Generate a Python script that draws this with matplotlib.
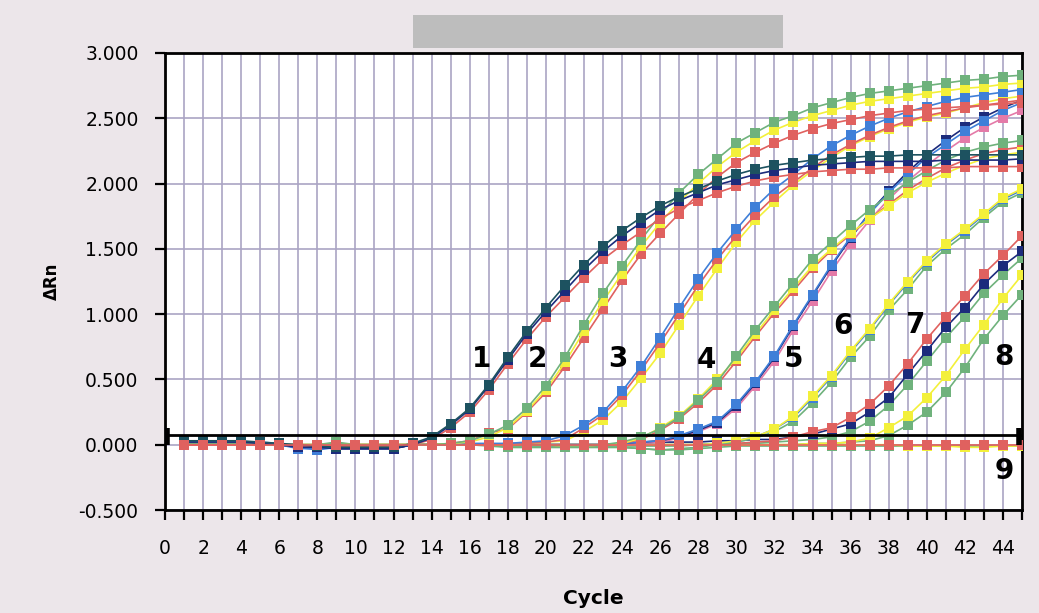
import matplotlib
matplotlib.use("Agg")
import matplotlib.pyplot as plt
from matplotlib.patches import Rectangle

cycles = list(range(1, 46))

# ---- dilution 1 ----
g1_navy = [0.02,0.02,0.02,0.02,0.01,0.00,-0.02,-0.02,-0.03,-0.03,-0.03,-0.03,0.00,
           0.05,0.15,0.27,0.45,0.65,0.85,1.02,1.18,1.34,1.48,1.60,1.70,1.80,1.87,1.93,1.99,2.03,2.07,
           2.10,2.12,2.14,2.15,2.16,2.17,2.17,2.17,2.17,2.18,2.18,2.18,2.18,2.19]
g1_teal = [0.03,0.03,0.03,0.03,0.02,0.01,0.00,-0.01,-0.02,-0.02,-0.02,-0.02,0.01,
           0.06,0.16,0.28,0.46,0.67,0.87,1.05,1.22,1.38,1.52,1.64,1.74,1.83,1.90,1.96,2.02,2.07,2.11,
           2.14,2.16,2.18,2.19,2.20,2.21,2.21,2.22,2.22,2.22,2.22,2.22,2.22,2.22]
g1_red = [0.00,0.00,0.00,0.00,0.00,0.00,-0.01,-0.01,-0.01,-0.01,-0.01,-0.01,0.00,
          0.04,0.13,0.25,0.42,0.62,0.81,0.98,1.13,1.28,1.42,1.53,1.63,1.73,1.81,1.87,1.93,1.98,2.02,
          2.05,2.07,2.09,2.10,2.11,2.11,2.12,2.12,2.12,2.12,2.13,2.13,2.13,2.13]
# ---- dilution 2 ----
g2_green = [0.01,0.01,0.01,0.01,0.00,0.00,-0.01,-0.01,0.01,-0.01,-0.01,-0.01,0.00,0.00,0.01,0.03,
            0.08,0.15,0.28,0.45,0.67,0.92,1.16,1.37,1.57,1.76,1.93,2.07,2.19,2.31,2.39,2.47,2.52,
            2.58,2.62,2.66,2.69,2.71,2.73,2.75,2.77,2.79,2.80,2.82,2.83]
g2_yellow = [0.01,0.01,0.01,0.01,0.00,0.00,-0.01,-0.01,0.00,-0.01,-0.01,-0.01,0.00,0.00,0.01,0.02,
             0.06,0.13,0.26,0.42,0.63,0.87,1.10,1.31,1.52,1.70,1.86,2.00,2.13,2.24,2.33,2.41,2.47,
             2.52,2.56,2.60,2.63,2.65,2.67,2.69,2.71,2.73,2.74,2.76,2.77]
g2_red = [0.00,0.00,0.00,0.00,0.00,0.00,-0.01,-0.01,0.00,-0.01,-0.01,-0.01,0.00,0.00,0.01,0.03,
          0.09,0.12,0.25,0.40,0.60,0.82,1.04,1.26,1.46,1.62,1.77,1.92,2.05,2.16,2.24,2.31,2.37,
          2.42,2.46,2.49,2.52,2.54,2.56,2.57,2.58,2.59,2.60,2.61,2.62]
# ---- dilution 3 ----
g3_blue = [0.02,0.02,0.02,0.02,0.01,0.00,-0.03,-0.03,-0.02,-0.02,-0.02,-0.02,0.00,0.00,0.00,
           0.01,0.01,0.01,0.02,0.03,
           0.07,0.15,0.25,0.41,0.60,0.82,1.05,1.27,1.47,1.65,1.82,1.96,2.07,2.19,2.29,2.37,2.44,
           2.50,2.55,2.59,2.63,2.66,2.68,2.70,2.72]
g3_red = [0.00,0.00,0.00,0.00,0.00,0.00,-0.01,-0.01,-0.01,-0.01,-0.01,-0.01,0.00,0.00,0.00,
          0.00,0.00,0.01,0.01,0.02,0.04,
          0.13,0.23,0.38,0.57,0.78,1.00,1.22,1.42,1.60,1.76,1.90,2.01,2.12,2.22,2.30,2.37,2.43,
          2.48,2.52,2.55,2.58,2.60,2.62,2.64]
g3_yellow = [0.00,0.00,0.00,0.00,0.00,0.00,-0.01,-0.01,-0.01,-0.01,-0.01,-0.01,0.00,0.00,0.00,
             0.00,0.00,0.00,0.01,0.02,0.03,
             0.10,0.19,0.33,0.51,0.70,0.92,1.14,1.35,1.55,1.72,1.86,1.99,2.10,2.20,2.29,2.36,2.42,
             2.47,2.51,2.54,2.58,2.62,2.65,2.67]
# ---- dilution 4 ----
g4_green = [0.00,0.00,0.00,0.00,0.00,0.00,-0.01,-0.01,0.00,0.00,0.00,0.00,0.00,0.00,0.00,0.00,
            0.00,0.00,0.00,0.00,-0.01,-0.01,0.00,0.02,
            0.06,0.12,0.21,0.34,0.48,0.68,0.88,1.06,1.24,1.42,1.55,1.68,1.80,1.91,2.01,2.10,2.18,
            2.24,2.28,2.31,2.33]
g4_yellow = [0.00,0.00,0.00,0.00,0.00,0.00,-0.01,-0.01,0.00,0.00,0.00,0.00,0.00,0.00,0.00,0.00,
             0.00,0.00,0.00,0.00,-0.01,-0.01,0.00,0.01,0.05,
             0.13,0.22,0.35,0.50,0.66,0.85,1.03,1.20,1.37,1.50,1.62,1.73,1.83,1.93,2.01,2.08,
             2.14,2.19,2.22,2.24]
g4_red = [0.00,0.00,0.00,0.00,0.00,0.00,-0.01,-0.01,0.00,0.00,0.00,0.00,0.00,0.00,0.00,0.00,
          0.00,0.00,0.00,0.00,-0.01,-0.01,0.00,0.01,0.04,
          0.11,0.20,0.32,0.46,0.64,0.83,1.01,1.18,1.35,1.49,1.61,1.73,1.84,1.95,2.04,2.12,
          2.18,2.23,2.26,2.28]
# ---- dilution 5 ----
g5_blue = [0.02,0.02,0.02,0.02,0.02,0.01,-0.02,-0.04,-0.02,-0.02,-0.02,-0.02,0.00,0.00,0.00,0.00,
           0.00,0.00,0.00,0.00,0.00,0.00,0.00,0.01,0.02,0.03,
           0.07,0.12,0.18,0.31,0.48,0.68,0.92,1.15,1.38,1.59,1.77,1.93,2.07,2.20,2.30,2.40,2.48,
           2.56,2.62]
g5_pink = [0.00,0.00,0.00,0.00,0.00,0.00,-0.01,-0.01,-0.01,-0.01,-0.01,-0.01,0.00,0.00,0.00,0.00,
           0.00,0.00,0.00,0.00,0.00,0.00,0.00,0.00,0.01,0.02,0.05,
           0.10,0.16,0.28,0.45,0.64,0.88,1.10,1.33,1.54,1.72,1.88,2.02,2.14,2.25,2.35,2.43,2.50,
           2.56]
g5_navy = [0.02,0.02,0.02,0.02,0.01,0.00,-0.02,-0.02,-0.03,-0.03,-0.03,-0.03,0.00,0.00,0.00,0.00,
           0.00,0.00,0.00,0.00,0.00,0.00,0.00,0.01,0.02,0.03,
           0.06,0.11,0.17,0.30,0.47,0.67,0.91,1.14,1.37,1.58,1.78,1.94,2.09,2.22,2.33,2.43,2.51,
           2.58,2.64]
# ---- dilution 6 ----
g6_green = [0.00,0.00,0.00,0.00,0.00,0.00,0.00,0.00,0.02,0.00,0.00,0.00,0.00,0.00,0.00,0.00,
            0.00,-0.02,-0.02,-0.02,-0.02,-0.02,-0.02,-0.02,-0.03,-0.04,-0.03,-0.02,0.00,0.02,
            0.05,0.10,0.18,0.32,0.48,0.67,0.83,1.03,1.19,1.37,1.50,1.61,1.74,1.86,1.93]
g6_yellow = [0.00,0.00,0.00,0.00,0.00,0.00,0.00,0.00,0.00,0.00,0.00,0.00,0.00,0.00,0.00,0.00,
             0.00,0.00,0.00,0.00,0.00,0.00,0.00,0.00,0.00,0.00,0.00,0.00,0.01,0.03,
             0.06,0.12,0.22,0.37,0.53,0.72,0.89,1.08,1.25,1.41,1.54,1.65,1.77,1.89,1.96]
g6_blue = [0.01,0.01,0.01,0.01,0.01,0.01,-0.02,-0.02,-0.01,-0.01,-0.01,-0.01,0.00,0.00,0.00,0.00,
           0.00,0.00,0.00,0.00,0.00,0.00,0.00,0.00,0.00,0.00,0.00,0.00,0.01,0.03,
           0.06,0.12,0.21,0.36,0.52,0.71,0.88,1.07,1.24,1.40,1.53,1.64,1.76,1.88,1.95]
# ---- dilution 7 ----
g7_red = [0.00,0.00,0.00,0.00,0.00,0.00,0.00,0.00,0.00,0.00,0.00,0.00,0.00,0.00,0.00,0.00,
          0.00,0.00,0.00,0.00,0.00,0.00,0.00,0.00,0.00,0.00,0.00,0.00,0.01,0.01,0.02,0.03,0.06,
          0.10,0.13,0.21,0.31,0.45,0.62,0.81,0.98,1.14,1.31,1.45,1.60]
g7_navy = [0.02,0.02,0.02,0.02,0.01,0.00,-0.02,-0.02,-0.03,-0.03,-0.03,-0.03,0.00,0.00,0.00,0.00,
           0.00,0.00,0.00,0.00,0.00,0.00,0.00,0.01,0.01,0.02,0.02,0.02,0.03,0.03,0.04,0.04,0.06,
           0.08,0.12,0.16,0.25,0.36,0.54,0.72,0.90,1.05,1.23,1.37,1.48]
g7_green = [0.00,0.00,0.00,0.00,0.00,0.00,0.00,0.00,0.00,0.00,0.00,0.00,0.00,0.00,0.00,0.00,
            0.00,0.00,0.00,0.00,0.00,0.00,0.00,0.00,0.00,0.00,0.00,0.00,0.00,0.01,0.01,0.02,0.03,
            0.04,0.06,0.10,0.18,0.30,0.46,0.64,0.82,0.98,1.16,1.30,1.43]
# ---- dilution 8 ----
g8_yellow = [0.00,0.00,0.00,0.00,0.00,0.00,0.00,0.00,0.00,0.00,0.00,0.00,0.00,0.00,0.00,0.00,
             0.00,0.00,0.00,0.00,0.00,0.00,0.00,0.00,0.00,0.00,0.00,0.00,0.00,0.00,0.00,0.00,0.00,
             0.01,0.01,0.02,0.05,0.13,0.22,0.36,0.53,0.73,0.92,1.12,1.30]
g8_green = [0.00,0.00,0.00,0.00,0.00,0.00,0.00,0.00,0.00,0.00,0.00,0.00,0.00,0.00,0.00,0.00,
            0.00,-0.01,-0.01,-0.01,-0.01,-0.01,-0.01,-0.01,-0.01,-0.01,-0.01,0.00,0.00,0.00,0.00,
            0.00,0.00,0.01,0.01,0.02,0.03,0.07,0.15,0.25,0.40,0.59,0.81,0.99,1.15]
# ---- no template control (9) ----
g9_yellow = [0.00,0.00,0.00,0.00,0.00,0.00,0.00,0.00,0.00,0.00,0.00,0.00,0.00,0.00,0.00,0.00,
             0.00,0.00,0.00,0.00,0.00,0.00,0.00,0.00,0.00,0.00,0.00,0.00,0.00,0.00,0.00,0.00,0.00,
             0.00,0.00,0.00,0.00,0.00,-0.01,-0.01,-0.01,-0.02,-0.02,-0.01,-0.01]
g9_green = [0.00,0.00,0.00,0.00,0.00,0.00,0.00,0.00,0.01,0.00,0.00,0.00,0.00,0.00,0.00,0.00,
            -0.01,-0.02,-0.02,-0.02,-0.02,-0.02,-0.02,-0.02,-0.03,-0.04,-0.04,-0.03,-0.02,-0.01,
            -0.01,-0.01,-0.01,-0.01,-0.01,-0.01,-0.01,-0.01,-0.01,-0.01,-0.01,-0.01,-0.01,-0.01,-0.01]
g9_red = [0.00,0.00,0.00,0.00,0.00,0.00,0.00,0.00,0.00,0.00,0.00,0.00,0.00,0.00,0.00,0.00,
          0.00,0.00,0.00,0.00,0.00,0.00,0.00,0.00,0.00,0.00,0.00,0.00,0.00,0.00,0.00,0.00,0.00,
          0.00,0.00,0.00,0.00,0.00,0.00,0.00,0.00,0.00,0.00,0.00,0.00]

threshold = 0.075

label_text = ["1", "2", "3", "4", "5", "6", "7", "8", "9"]
label_x = [16.6, 19.55, 23.8, 28.45, 33.0, 35.6, 39.35, 44.05, 44.05]
label_y = [0.66, 0.66, 0.66, 0.645, 0.66, 0.91, 0.915, 0.67, -0.205]

ytick_vals = [-0.5, 0.0, 0.5, 1.0, 1.5, 2.0, 2.5, 3.0]
ytick_labels = ["-0.500", "0.000", "0.500", "1.000", "1.500", "2.000", "2.500", "3.000"]

NAVY = "#1c2b7c"
TEAL = "#1d5260"
BLUE = "#3f7fd8"
RED = "#e0615f"
PINK = "#e47aa8"
YELLOW = "#f3f03a"
GREEN = "#6fb27c"

series = [
    (g9_green, GREEN), (g9_yellow, YELLOW),
    (g8_green, GREEN), (g8_yellow, YELLOW),
    (g7_green, GREEN), (g7_navy, NAVY), (g7_red, RED),
    (g6_green, GREEN), (g6_blue, BLUE), (g6_yellow, YELLOW),
    (g5_pink, PINK), (g5_navy, NAVY), (g5_blue, BLUE),
    (g4_red, RED), (g4_yellow, YELLOW), (g4_green, GREEN),
    (g3_yellow, YELLOW), (g3_red, RED), (g3_blue, BLUE),
    (g2_red, RED), (g2_yellow, YELLOW), (g2_green, GREEN),
    (g1_red, RED), (g1_navy, NAVY), (g1_teal, TEAL),
    (g9_red, RED),
]

fig = plt.figure(figsize=(10.39, 6.13), dpi=100)
fig.patch.set_facecolor("#ece6ea")
ax = fig.add_axes([165/1039, 1 - 510/613, (1022 - 165)/1039, (510 - 53)/613])
ax.set_facecolor("white")

# redaction bar at top
fig.patches.append(Rectangle((413/1039, 1 - 48/613), 370/1039, 33/613,
                             transform=fig.transFigure, facecolor="#bdbdbd",
                             edgecolor="none", zorder=0))

for i, (vals, col) in enumerate(series):
    x = cycles[:len(vals)]
    ax.plot(x, vals, color=col, lw=1.2, marker="s", markersize=7.6,
            markeredgewidth=0, zorder=3 + i * 0.01)

# threshold line
ax.plot([0, 45], [threshold, threshold], color="black", lw=2.0, zorder=4)
ax.plot([0.12, 0.12], [0.0, 0.13], color="black", lw=4, solid_capstyle="butt", zorder=4)
ax.plot([44.85, 44.85], [0.0, 0.13], color="black", lw=4, solid_capstyle="butt", zorder=4)

for t, lx, ly in zip(label_text, label_x, label_y):
    ax.text(lx, ly, t, fontsize=20, fontweight="bold", ha="center", va="center",
            color="black", zorder=6)

ax.set_xlim(0, 45)
ax.set_ylim(-0.5, 3.0)
ax.set_xticks(range(0, 46))
ax.set_xticklabels([str(v) if (v % 2 == 0 and v <= 44) else "" for v in range(0, 46)])
ax.set_yticks(ytick_vals)
ax.set_yticklabels(ytick_labels)
ax.tick_params(axis="x", direction="out", length=7, width=1.6, labelsize=13.5, pad=14,
               colors="black")
ax.tick_params(axis="y", direction="out", length=7, width=1.6, labelsize=13.5, pad=12,
               colors="black")
ax.grid(True, color="#aaa4c4", lw=1.2, zorder=1)
ax.set_axisbelow(True)
for s in ax.spines.values():
    s.set_linewidth(2.0)
    s.set_color("black")

ax.set_xlabel("Cycle", fontsize=14.5, fontweight="bold", labelpad=22)
ax.set_ylabel("ΔRn", fontsize=12, fontweight="bold", labelpad=13)

fig.savefig("out.png", dpi=100, facecolor=fig.get_facecolor())
